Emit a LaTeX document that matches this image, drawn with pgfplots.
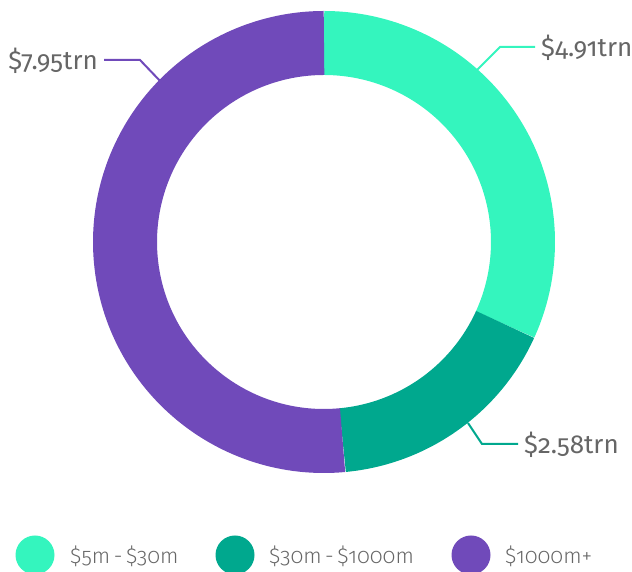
\documentclass[border=0pt]{standalone}
\usepackage{fontspec}
\setmainfont{Fira Sans Light}[Numbers=OldStyle]
\newfontfamily\labfont{Fira Sans}[Numbers=OldStyle]
\usepackage{pgfplots}
\usepackage{pgfplotstable}
\pgfplotsset{compat=1.18}
\definecolor{cA}{HTML}{34F5BE}
\definecolor{cB}{HTML}{00A88E}
\definecolor{cC}{HTML}{704ABA}
\definecolor{txt}{HTML}{666666}
\pgfplotstableread{
value
4.91
2.58
7.95
}\data
\begin{document}
\begin{tikzpicture}
\pgfplotstablegetelem{0}{value}\of\data \let\va\pgfplotsretval
\pgfplotstablegetelem{1}{value}\of\data \let\vb\pgfplotsretval
\pgfplotstablegetelem{2}{value}\of\data \let\vc\pgfplotsretval
\pgfmathsetmacro\tot{\va+\vb+\vc}
\pgfmathsetmacro\aA{90}
\pgfmathsetmacro\aB{\aA-360*\va/\tot}
\pgfmathsetmacro\aC{\aB-360*\vb/\tot}
\pgfmathsetmacro\aD{\aC-360*\vc/\tot}
\begin{axis}[x=1pt,y=1pt,xmin=0,xmax=632,ymin=0,ymax=572,hide axis,clip=true]
\path (axis cs:0,0) rectangle (axis cs:632,572);
\draw[cA,line width=64pt] (axis cs:324,330) ++(\aA:199pt) arc[start angle=\aA,end angle=\aB,radius=199pt];
\draw[cB,line width=64pt] (axis cs:324,330) ++(\aB:199pt) arc[start angle=\aB,end angle=\aC,radius=199pt];
\draw[cC,line width=64pt] (axis cs:324,330) ++(\aC:199pt) arc[start angle=\aC,end angle=\aD,radius=199pt];
% leader lines
\draw[cC,line width=2pt] (axis cs:162,489) -- (axis cs:140,512) -- (axis cs:104,512);
\draw[cA,line width=2pt] (axis cs:475,500) -- (axis cs:500,525) -- (axis cs:535,525);
\draw[cB,line width=2pt] (axis cs:468,149) -- (axis cs:482,128) -- (axis cs:518,128);
\node[anchor=east,text=txt,font=\labfont\fontsize{26}{30}\selectfont,inner sep=0pt] at (axis cs:98,511) {\$7.95trn};
\node[anchor=west,text=txt,font=\labfont\fontsize{26}{30}\selectfont,inner sep=0pt] at (axis cs:541,524) {\$4.91trn};
\node[anchor=west,text=txt,font=\labfont\fontsize{26}{30}\selectfont,inner sep=0pt] at (axis cs:524,127) {\$2.58trn};
% legend
\fill[cA] (axis cs:35,17) circle[radius=19.5pt];
\fill[cB] (axis cs:235,17) circle[radius=19.5pt];
\fill[cC] (axis cs:471,17) circle[radius=19.5pt];
\node[anchor=west,text=txt,font=\fontsize{21.5}{25}\selectfont,inner sep=0pt] at (axis cs:70,16) {\$5m\,-\,\$30m};
\node[anchor=west,text=txt,font=\fontsize{21.5}{25}\selectfont,inner sep=0pt] at (axis cs:269,16) {\$30m\,-\,\$1000m};
\node[anchor=west,text=txt,font=\fontsize{21.5}{25}\selectfont,inner sep=0pt] at (axis cs:505,16) {\$1000m+};
\end{axis}
\end{tikzpicture}
\end{document}
